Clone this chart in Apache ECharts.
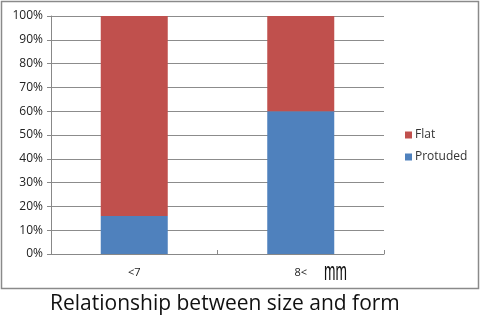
<!DOCTYPE html>
<html>
<head>
<meta charset="utf-8">
<script src="https://cdn.jsdelivr.net/npm/echarts@6/dist/echarts.min.js"></script>
<style>
html, body { margin: 0; padding: 0; background: #fff; }
#main { width: 480px; height: 332px; }
</style>
</head>
<body>
<div id="main"></div>
<script>
var categories = ['<7', '8<'];
var protudedValues = [16, 60];
var flatValues = [84, 40];
var yTicks = [0, 10, 20, 30, 40, 50, 60, 70, 80, 90, 100];

var chart = echarts.init(document.getElementById('main'));

var font = '"Open Sans", "Liberation Sans", sans-serif';

var option = {
    animation: false,
    backgroundColor: '#fff',
    grid: {
        left: 51,
        top: 16,
        width: 333,
        height: 238
    },
    legend: {
        orient: 'vertical',
        left: 400,
        top: 124,
        itemWidth: 7,
        itemHeight: 7,
        itemGap: 10,
        icon: 'rect',
        data: ['Flat', 'Protuded'],
        textStyle: { fontFamily: font, fontSize: 12, color: '#333', padding: [0, 0, 0, -2] }
    },
    xAxis: {
        type: 'category',
        data: categories,
        axisLine: { lineStyle: { color: '#888' } },
        axisTick: { show: true, interval: 0, length: 4, inside: true, lineStyle: { color: '#888' } },
        axisLabel: { fontFamily: font, fontSize: 11, color: '#222', margin: 13 }
    },
    yAxis: {
        type: 'value',
        min: 0,
        max: 100,
        interval: 10,
        axisLine: { show: true, lineStyle: { color: '#888' } },
        axisTick: { show: true, length: 4, lineStyle: { color: '#888' } },
        splitLine: { lineStyle: { color: '#8c8c8c' } },
        axisLabel: {
            fontFamily: font, fontSize: 12, color: '#222', margin: 8,
            formatter: function (v) { return yTicks.indexOf(v) >= 0 ? v + '%' : ''; }
        }
    },
    series: [
        {
            name: 'Protuded',
            type: 'bar',
            stack: 'total',
            barWidth: 67,
            data: protudedValues,
            itemStyle: { color: '#4F81BD' }
        },
        {
            name: 'Flat',
            type: 'bar',
            stack: 'total',
            barWidth: 67,
            data: flatValues,
            itemStyle: { color: '#C0504D' }
        }
    ],
    graphic: [
        {
            type: 'rect',
            shape: { x: 1.5, y: 1.5, width: 477, height: 287 },
            style: { fill: 'none', stroke: '#8a8a8a', lineWidth: 1.5 },
            silent: true
        },
        {
            type: 'text',
            x: 324,
            y: 261,
            scaleX: 0.55,
            style: { text: 'mm', font: '25px "Liberation Sans", sans-serif', fill: '#111' }
        },
        {
            type: 'text',
            x: 50,
            y: 294,
            style: { text: 'Relationship between size and form', font: '21px ' + font, fill: '#111' }
        }
    ]
};

chart.setOption(option);
</script>
</body>
</html>
